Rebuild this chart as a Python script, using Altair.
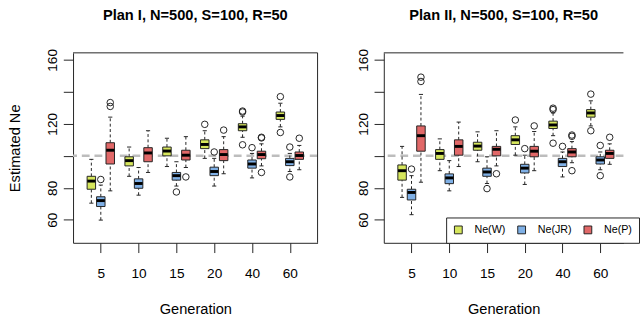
import altair as alt
import pandas as pd

# ---------------- data ----------------
gens = ["5", "10", "15", "20", "40", "60"]
series = ["Ne(W)", "Ne(JR)", "Ne(P)"]
colors = ["#D6E65C", "#7FB0E6", "#E16868"]
true_ne = [100]

# Plan I
p1_w_lo  = [70.4, 87.2, 93.3, 98.4, 111.6, 118.1]
p1_w_q1  = [79.1, 93.7, 100.0, 104.5, 115.7, 122.8]
p1_w_med = [84.2, 97.0, 103.0, 107.1, 118.1, 125.2]
p1_w_q3  = [87.2, 99.4, 105.5, 110.0, 120.1, 127.4]
p1_w_hi  = [97.8, 105.5, 111.0, 115.7, 124.8, 132.9]
p1_w_out = [[], [], [], [119.7], [127.4, 128.0, 106.9], [137.0, 114.6]]

p1_jr_lo  = [59.8, 75.4, 81.1, 81.1, 86.2, 90.2]
p1_jr_q1  = [68.3, 79.7, 84.8, 87.6, 92.3, 93.9]
p1_jr_med = [72.0, 82.7, 87.6, 90.2, 94.9, 96.3]
p1_jr_q3  = [74.4, 85.6, 89.6, 92.9, 97.4, 98.4]
p1_jr_hi  = [81.7, 92.7, 96.3, 98.4, 101.5, 101.5]
p1_jr_out = [[85.2], [], [77.4], [102.4], [105.1], [105.5, 86.8]]

p1_p_lo  = [78.1, 89.6, 92.7, 88.8, 93.7, 91.3]
p1_p_q1  = [94.9, 96.3, 97.4, 97.0, 98.2, 97.8]
p1_p_med = [103.5, 101.8, 100.4, 100.8, 100.8, 100.2]
p1_p_q3  = [108.2, 105.1, 103.5, 103.9, 102.9, 102.4]
p1_p_hi  = [124.2, 115.7, 112.0, 112.0, 107.5, 106.5]
p1_p_out = [[133.3, 130.9], [], [86.8], [116.1], [111.6, 111.2, 89.6], [111.0]]

# Plan II
p2_w_lo  = [74.0, 90.7, 96.3, 100.4, 112.6, 118.7]
p2_w_q1  = [84.8, 97.8, 103.5, 107.1, 117.1, 124.2]
p2_w_med = [90.7, 101.5, 106.1, 110.0, 119.3, 126.8]
p2_w_q3  = [94.3, 103.9, 108.5, 112.6, 121.7, 128.9]
p2_w_hi  = [105.9, 110.6, 115.0, 118.1, 126.8, 134.4]
p2_w_out = [[], [], [], [122.4], [129.8, 128.9, 107.9], [138.6, 115.7]]

p2_jr_lo  = [63.2, 78.1, 82.7, 82.1, 86.8, 91.3]
p2_jr_q1  = [72.4, 82.6, 87.2, 89.3, 93.3, 94.9]
p2_jr_med = [77.1, 86.2, 89.9, 92.3, 96.3, 97.4]
p2_jr_q3  = [79.1, 88.7, 92.3, 94.7, 98.4, 99.4]
p2_jr_hi  = [87.6, 97.0, 99.4, 100.4, 102.4, 102.4]
p2_jr_out = [[91.7], [], [79.5], [104.5], [105.9], [106.5, 87.6]]

p2_p_lo  = [83.5, 93.3, 93.7, 90.7, 95.7, 94.7]
p2_p_q1  = [102.9, 100.4, 100.0, 99.4, 99.4, 98.4]
p2_p_med = [112.6, 105.9, 104.1, 102.9, 102.4, 101.5]
p2_p_q3  = [118.7, 110.0, 105.9, 105.9, 104.5, 103.5]
p2_p_hi  = [138.4, 121.1, 115.7, 115.2, 108.9, 107.5]
p2_p_out = [[149.2, 146.5], [], [88.8], [118.7], [113.0, 112.2, 90.7], [111.6]]


def build(stats, outs):
    rows, orows = [], []
    for si, s in enumerate(series):
        lo, q1, med, q3, hi = stats[si]
        for gi, g in enumerate(gens):
            pos = gi * 4 + si + 1
            rows.append(dict(series=s, gen=g, pos=pos, lo=lo[gi], q1=q1[gi],
                             med=med[gi], q3=q3[gi], hi=hi[gi]))
            for v in outs[si][gi]:
                orows.append(dict(series=s, gen=g, pos=pos, val=v))
    return pd.DataFrame(rows), pd.DataFrame(orows)


df1, out1 = build(
    [(p1_w_lo, p1_w_q1, p1_w_med, p1_w_q3, p1_w_hi),
     (p1_jr_lo, p1_jr_q1, p1_jr_med, p1_jr_q3, p1_jr_hi),
     (p1_p_lo, p1_p_q1, p1_p_med, p1_p_q3, p1_p_hi)],
    [p1_w_out, p1_jr_out, p1_p_out])
df2, out2 = build(
    [(p2_w_lo, p2_w_q1, p2_w_med, p2_w_q3, p2_w_hi),
     (p2_jr_lo, p2_jr_q1, p2_jr_med, p2_jr_q3, p2_jr_hi),
     (p2_p_lo, p2_p_q1, p2_p_med, p2_p_q3, p2_p_hi)],
    [p2_w_out, p2_jr_out, p2_p_out])

FONT = "Liberation Sans"
INK = "#222222"
tick_pos = [gi * 4 + 2 for gi in range(len(gens))]
label_expr = "[" + ",".join("'%s'" % g for g in gens) + "][round((datum.value - 2) / 4)]"


def panel(df, odf, title, xmax, ytitle, legend):
    xsc = alt.Scale(domain=[-0.42, xmax], nice=False, zero=False)
    ysc = alt.Scale(domain=[45.6, 164.4], nice=False, zero=False)
    xaxis = alt.Axis(values=tick_pos, labelExpr=label_expr, title="Generation",
                     grid=False, tickSize=10, tickColor=INK, domainColor=INK,
                     labelFont=FONT, labelFontSize=14, labelColor="black",
                     labelPadding=15, titleFont=FONT, titleFontSize=15,
                     titleFontWeight="normal", titleColor="black", titlePadding=22)
    yargs = dict(values=[60, 80, 100, 120, 140, 160],
                 labelExpr="(datum.value == 100 || datum.value == 140) ? '' : datum.label",
                 grid=False, tickSize=10, tickColor=INK, domainColor=INK,
                 labelFont=FONT, labelFontSize=14, labelColor="black",
                 labelAngle=270, labelAlign="center", labelBaseline="bottom",
                 labelPadding=4, titleFont=FONT, titleFontSize=15,
                 titleFontWeight="normal", titleColor="black", titlePadding=24)
    yaxis = alt.Axis(title=ytitle if ytitle else "", **yargs)

    X = alt.X("pos:Q", scale=xsc, axis=xaxis)
    base = alt.Chart(df).transform_calculate(
        blo="datum.pos - 0.43", bhi="datum.pos + 0.43",
        slo="datum.pos - 0.22", shi="datum.pos + 0.22")

    ref = alt.Chart(pd.DataFrame({"ref": true_ne})).mark_rule(
        color="#BDBDBD", strokeWidth=2.5, strokeDash=[8, 5]).encode(
        y=alt.Y("ref:Q", scale=ysc, axis=yaxis))

    wl = base.mark_rule(color=INK, strokeWidth=1, strokeDash=[3, 2.5]).encode(
        x=X, y=alt.Y("lo:Q", scale=ysc, axis=yaxis), y2="q1:Q")
    wh = base.mark_rule(color=INK, strokeWidth=1, strokeDash=[3, 2.5]).encode(
        x=X, y=alt.Y("q3:Q", scale=ysc, axis=yaxis), y2="hi:Q")
    sl = base.mark_rule(color=INK, strokeWidth=1).encode(
        x=alt.X("slo:Q", scale=xsc, axis=xaxis), x2="shi:Q",
        y=alt.Y("lo:Q", scale=ysc, axis=yaxis))
    sh = base.mark_rule(color=INK, strokeWidth=1).encode(
        x=alt.X("slo:Q", scale=xsc, axis=xaxis), x2="shi:Q",
        y=alt.Y("hi:Q", scale=ysc, axis=yaxis))

    col = alt.Color("series:N", scale=alt.Scale(domain=series, range=colors),
                    legend=legend)
    box = base.mark_bar(size=8.7, orient="vertical", stroke=INK, strokeWidth=1,
                        opacity=1).encode(
        x=X, y=alt.Y("q1:Q", scale=ysc, axis=yaxis), y2="q3:Q", color=col)
    med = base.mark_rule(color="black", strokeWidth=3).encode(
        x=alt.X("blo:Q", scale=xsc, axis=xaxis), x2="bhi:Q",
        y=alt.Y("med:Q", scale=ysc, axis=yaxis))
    pts = alt.Chart(odf).mark_point(shape="circle", filled=False, size=45,
                                    color=INK, strokeWidth=1, opacity=1).encode(
        x=X, y=alt.Y("val:Q", scale=ysc, axis=yaxis))

    frame = alt.Chart(pd.DataFrame({"f": [0]}))
    top = frame.mark_rule(color=INK, strokeWidth=1).encode(
        x=alt.value(0), x2=alt.value("width"), y=alt.value(0))
    layers = [ref, wl, wh, sl, sh, box, med, pts, top]
    if xmax > 24:
        right = frame.mark_rule(color=INK, strokeWidth=1).encode(
            x=alt.value("width"), y=alt.value(0), y2=alt.value("height"))
        layers.append(right)

    width = round((xmax + 0.42) * 10.1)
    return alt.layer(*layers).properties(
        width=width, height=195,
        title=alt.TitleParams(title, font=FONT, fontSize=15, fontWeight="bold",
                              color="black", anchor="middle", frame="group",
                              offset=26))


leg = alt.Legend(title=None, orient="none", legendX=64, legendY=169,
                 direction="horizontal", strokeColor=INK, fillColor="white",
                 padding=7, symbolType="square", symbolSize=64,
                 symbolStrokeColor=INK, symbolStrokeWidth=1, symbolOpacity=1,
                 labelFont=FONT, labelFontSize=11, labelColor="black",
                 labelOffset=11, columnPadding=10, cornerRadius=0)

left = panel(df1, out1, "Plan I, N=500, S=100, R=50", 24.42, "Estimated Ne", None)
right = panel(df2, out2, "Plan II, N=500, S=100, R=50", 23.94, None, leg)

chart = alt.hconcat(left, right, spacing=37).resolve_legend(
    color="independent").properties(
    padding={"left": 8, "top": 4, "right": 0, "bottom": 0},
    background="white").configure_view(strokeWidth=0)

chart.save("out.html", embed_options={"renderer": "svg", "actions": False})
